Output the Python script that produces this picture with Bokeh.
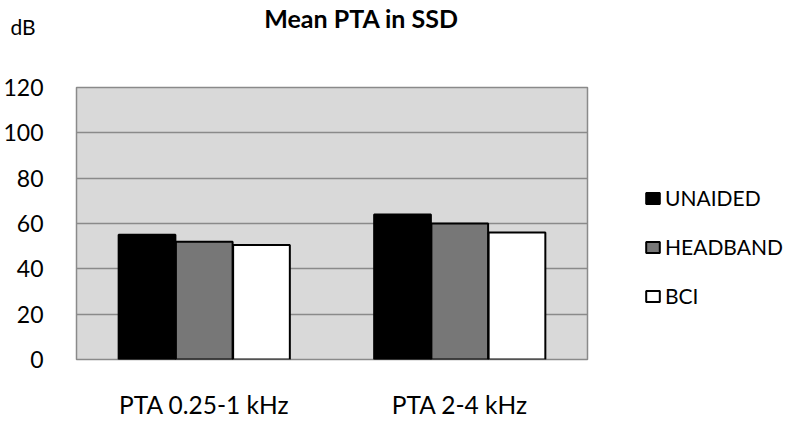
from bokeh.plotting import figure
from bokeh.models import ColumnDataSource, FactorRange, Range1d, Label, Legend, LegendItem, FixedTicker
from bokeh.transform import dodge
from bokeh.embed import file_html
from bokeh.resources import INLINE

categories = ["PTA 0.25-1 kHz", "PTA 2-4 kHz"]
series = ["UNAIDED", "HEADBAND", "BCI"]
unaided = [55, 64]
headband = [52, 60]
bci = [50.5, 56]
y_ticks = [0, 20, 40, 60, 80, 100, 120]
colors = ["#000000", "#777777", "#ffffff"]

FONT = "Lato"

src = ColumnDataSource(dict(cat=categories, UNAIDED=unaided, HEADBAND=headband, BCI=bci))

p = figure(frame_width=511, frame_height=272, x_range=FactorRange(*categories), y_range=Range1d(0, 120),
           output_backend="svg", toolbar_location=None, title=None,
           min_border_left=68, min_border_top=87, min_border_right=190, min_border_bottom=44)

p.background_fill_color = "#d9d9d9"
p.border_fill_color = "white"
p.outline_line_color = "#8a8a8a"
p.outline_line_width = 1.5
p.xgrid.grid_line_color = None
p.ygrid.grid_line_color = "#8a8a8a"
p.ygrid.grid_line_width = 1.5
p.yaxis.ticker = FixedTicker(ticks=y_ticks)

for ax in (p.xaxis[0], p.yaxis[0]):
    ax.axis_line_color = None
    ax.major_tick_line_color = None
    ax.minor_tick_line_color = None
    ax.major_label_text_font = FONT
    ax.major_label_text_color = "#000000"
p.yaxis.major_label_text_font_size = "23px"
p.yaxis.major_label_standoff = 27
p.xaxis.major_label_text_font_size = "24.5px"
p.xaxis.major_label_standoff = 24

offsets = [-0.224, 0.0, 0.224]
renderers = []
for s, c, off in zip(series, colors, offsets):
    r = p.vbar(x=dodge("cat", off, range=p.x_range), top=s, width=0.222, bottom=0, source=src,
               fill_color=c, line_color="#000000", line_width=2)
    renderers.append(r)

legend = Legend(items=[LegendItem(label=s, renderers=[r]) for s, r in zip(series, renderers)],
                location=(57, 51), orientation="vertical",
                label_text_font=FONT, label_text_font_size="21px", label_text_color="#000000",
                glyph_width=17, glyph_height=14, spacing=24, padding=0, margin=0,
                background_fill_alpha=0, border_line_color=None, label_standoff=4)
p.add_layout(legend, "right")

p.add_layout(Label(x=285, y=70, x_units="screen", y_units="screen", text="Mean PTA in SSD",
                   text_font=FONT, text_font_size="25px", text_font_style="bold", text_color="#000000",
                   text_align="center", text_baseline="alphabetic"), "above")
p.add_layout(Label(x=-66, y=31, x_units="screen", y_units="screen", text="dB",
                   text_font=FONT, text_font_size="21px", text_align="left", text_color="#000000",
                   text_baseline="alphabetic"), "above")

open("out.html", "w").write(file_html(p, INLINE))
